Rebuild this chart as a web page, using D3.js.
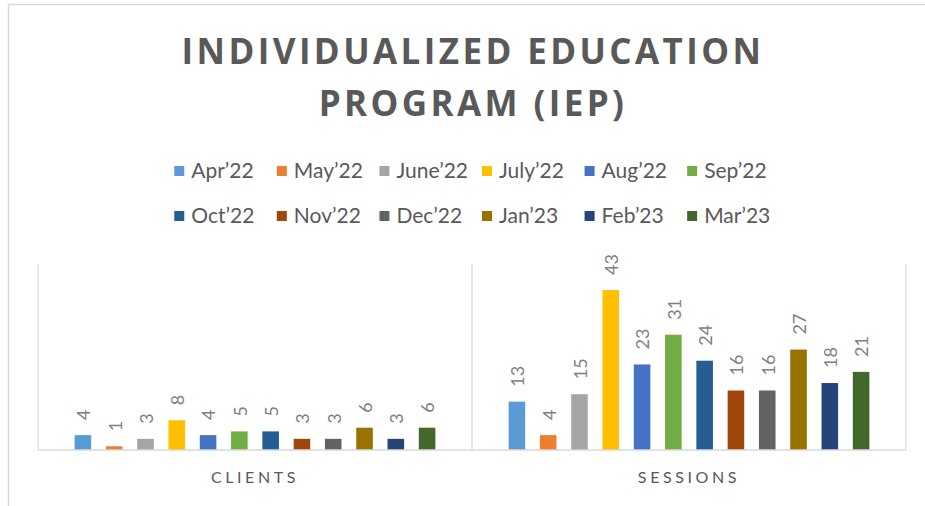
<!DOCTYPE html>
<html>
<head>
<meta charset="utf-8">
<script src="https://cdn.jsdelivr.net/npm/d3@7"></script>
<style>
  body { margin: 0; background: #fff; }
  text { font-family: Lato, "Open Sans", sans-serif; }
</style>
</head>
<body>
<script>
// data
const groups = ["CLIENTS", "SESSIONS"];
const months = ["Apr’22", "May’22", "June’22", "July’22", "Aug’22", "Sep’22",
                "Oct’22", "Nov’22", "Dec’22", "Jan’23", "Feb’23", "Mar’23"];
const clients  = [4, 1, 3, 8, 4, 5, 5, 3, 3, 6, 3, 6];
const sessions = [13, 4, 15, 43, 23, 31, 24, 16, 16, 27, 18, 21];
const colors = ["#5B9BD5", "#ED7D31", "#A5A5A5", "#FFC000", "#4472C4", "#70AD47",
                "#255E91", "#9E480E", "#636363", "#997300", "#264478", "#43682B"];

var width = 925, height = 506;
var plot = { left: 38, right: 906, top: 264, bottom: 450 };

var svg = d3.select("body").append("svg")
    .attr("width", width)
    .attr("height", height);

// outer chart border (only top/left visible in the crop)
svg.append("rect")
    .attr("x", 8.5).attr("y", 4.5)
    .attr("width", width + 20).attr("height", height + 20)
    .attr("fill", "none")
    .attr("stroke", "#d9d9d9")
    .attr("stroke-width", 1.5);

// title
var title = svg.append("text")
    .attr("text-anchor", "middle")
    .attr("fill", "#595959")
    .style("font-family", "'Open Sans', sans-serif")
    .style("font-weight", "bold")
    .style("font-size", "35px")
    .style("letter-spacing", "3.4px");
title.append("tspan").attr("x", 473).attr("y", 64).text("INDIVIDUALIZED EDUCATION");
title.append("tspan").attr("x", 473).attr("y", 116).text("PROGRAM (IEP)");

// legend: two rows of six, equal column widths
var legend = svg.append("g");
var items = legend.selectAll("g")
    .data(months)
    .enter().append("g");
items.append("rect")
    .attr("width", 10).attr("height", 10)
    .attr("y", -5)
    .attr("fill", (d, i) => colors[i]);
items.append("text")
    .attr("x", 17)
    .attr("dy", "0.35em")
    .attr("fill", "#595959")
    .style("font-size", "21px")
    .text(d => d);

var maxW = d3.max(items.nodes(), n => n.getBBox().width);
var colW = maxW + 14;
var perRow = 6;
var legendW = colW * (perRow - 1) + maxW;
var legendX = 475 - legendW / 2;
items.attr("transform", (d, i) =>
    `translate(${legendX + (i % perRow) * colW},${171 + Math.floor(i / perRow) * 45})`);

// scales
var x0 = d3.scaleBand()
    .domain(groups)
    .range([plot.left, plot.right]);

var x1 = d3.scaleBand()
    .domain(months)
    .range([0, x0.bandwidth()])
    .paddingInner(0.47)
    .paddingOuter(1.17);

var y = d3.scaleLinear()
    .domain([0, 50])
    .range([plot.bottom, plot.top]);

// vertical separators
svg.append("g")
    .selectAll("line")
    .data([plot.left, x0("SESSIONS"), plot.right])
    .enter().append("line")
    .attr("x1", d => d).attr("x2", d => d)
    .attr("y1", plot.top).attr("y2", plot.bottom)
    .attr("stroke", "#d9d9d9")
    .attr("stroke-width", 1.2);

var series = [clients, sessions];

var groupG = svg.append("g")
    .selectAll("g")
    .data(groups)
    .enter().append("g")
    .attr("transform", d => `translate(${x0(d)},0)`);

var bars = groupG.selectAll("rect")
    .data((g, gi) => months.map((m, i) => ({ month: m, value: series[gi][i], i: i })))
    .enter();

bars.append("rect")
    .attr("x", d => x1(d.month))
    .attr("y", d => y(d.value))
    .attr("width", x1.bandwidth())
    .attr("height", d => plot.bottom - y(d.value))
    .attr("fill", d => colors[d.i]);

// rotated value labels
bars.append("text")
    .attr("transform", d =>
        `translate(${x1(d.month) + x1.bandwidth() / 2 + 1},${y(d.value) - 15}) rotate(-90)`)
    .attr("dy", "0.35em")
    .attr("fill", "#7f7f7f")
    .style("font-size", "18px")
    .text(d => d.value);

// baseline
svg.append("line")
    .attr("x1", plot.left).attr("x2", plot.right)
    .attr("y1", plot.bottom).attr("y2", plot.bottom)
    .attr("stroke", "#d9d9d9")
    .attr("stroke-width", 1.5);

// category labels
groupG.append("text")
    .attr("x", x0.bandwidth() / 2)
    .attr("y", 483)
    .attr("text-anchor", "middle")
    .attr("fill", "#595959")
    .style("font-size", "16px")
    .style("letter-spacing", "3.6px")
    .text(d => d);
</script>
</body>
</html>
